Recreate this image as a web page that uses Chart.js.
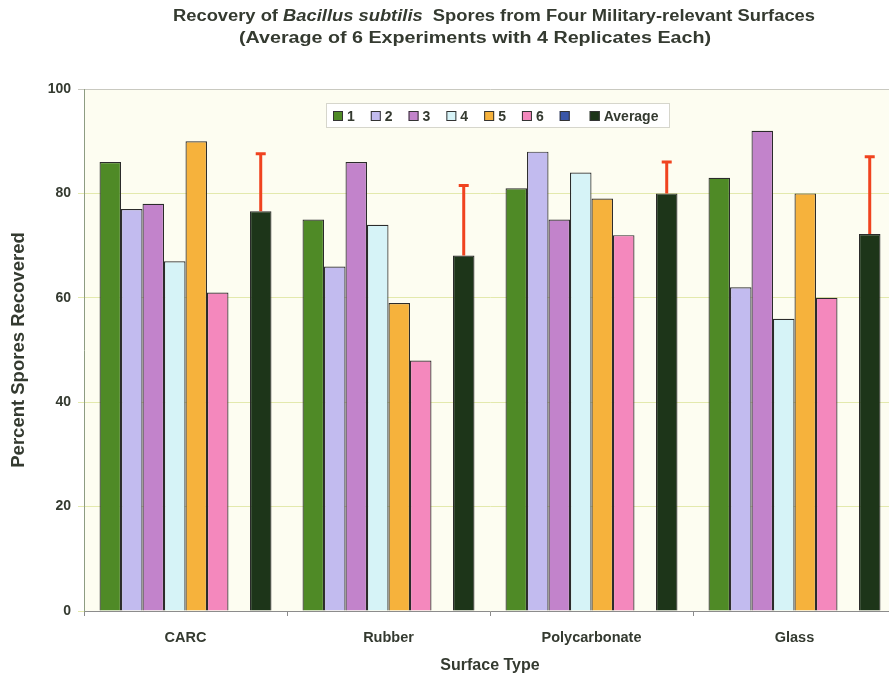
<!DOCTYPE html>
<html>
<head>
<meta charset="utf-8">
<script src="https://cdn.jsdelivr.net/npm/chart.js@4.4.1/dist/chart.umd.min.js"></script>
<style>
  html, body { margin: 0; padding: 0; background: #fff; overflow: hidden; }
  #wrap { position: relative; width: 896px; height: 678px; }
</style>
</head>
<body>
<div id="wrap"><canvas id="chart"></canvas></div>
<script>
// data
const surfaces = ['CARC', 'Rubber', 'Polycarbonate', 'Glass'];
const seriesNames = ['1', '2', '3', '4', '5', '6', '', 'Average'];
const exp1 = [86, 75, 81, 83];
const exp2 = [77, 66, 88, 62];
const exp3 = [78, 86, 75, 92];
const exp4 = [67, 74, 84, 56];
const exp5 = [90, 59, 79, 80];
const exp6 = [61, 48, 72, 60];
const exp7 = [null, null, null, null];   // empty series, only in legend
const average = [76.6, 68.1, 80.0, 72.2];
const averageErr = [11.0, 13.4, 6.0, 14.8];
const yTicks = [0, 20, 40, 60, 80, 100];

const colors = ['#4f8a26', '#c2bbef', '#c283cb', '#d6f3f7', '#f6b23c', '#f488bd', '#3a56a8', '#1d3519'];
const allSeries = [exp1, exp2, exp3, exp4, exp5, exp6, exp7, average];

const FONT = '"Liberation Sans", Arial, sans-serif';
const TEXT = '#343a30';

const plotBg = {
  id: 'plotBg',
  beforeDraw(chart) {
    const {ctx, chartArea: a} = chart;
    ctx.save();
    ctx.fillStyle = '#fdfdf1';
    ctx.fillRect(a.left, a.top, a.right - a.left, a.bottom - a.top);
    ctx.restore();
  }
};

const errorBars = {
  id: 'errorBars',
  afterDatasetsDraw(chart) {
    const {ctx} = chart;
    const y = chart.scales.y;
    const meta = chart.getDatasetMeta(7);
    ctx.save();
    ctx.strokeStyle = '#f0431f';
    ctx.lineWidth = 3;
    meta.data.forEach((bar, i) => {
      const y0 = y.getPixelForValue(average[i]);
      const y1 = y.getPixelForValue(average[i] + averageErr[i]);
      ctx.beginPath();
      ctx.moveTo(bar.x, y0);
      ctx.lineTo(bar.x, y1);
      ctx.moveTo(bar.x - 5, y1);
      ctx.lineTo(bar.x + 5, y1);
      ctx.stroke();
    });
    ctx.restore();
  }
};

// title with the italic species name, stretched a little like the scan
const titlePlugin = {
  id: 'titlePlugin',
  afterDraw(chart) {
    const {ctx} = chart;
    const lines = [
      {cx: 494, cy: 17, width: 642, parts: [['Recovery of ', false], ['Bacillus subtilis', true], ['  Spores from Four Military-relevant Surfaces', false]]},
      {cx: 475, cy: 39, width: 472, parts: [['(Average of 6 Experiments with 4 Replicates Each)', false]]}
    ];
    ctx.save();
    ctx.fillStyle = TEXT;
    ctx.textBaseline = 'middle';
    ctx.textAlign = 'left';
    lines.forEach(line => {
      let w = 0;
      line.parts.forEach(p => {
        ctx.font = (p[1] ? 'italic ' : '') + 'bold 16px ' + FONT;
        w += ctx.measureText(p[0]).width;
      });
      const sx = line.width / w;
      ctx.save();
      ctx.translate(line.cx - line.width / 2, line.cy);
      ctx.scale(sx, 1);
      let x = 0;
      line.parts.forEach(p => {
        ctx.font = (p[1] ? 'italic ' : '') + 'bold 16px ' + FONT;
        ctx.fillText(p[0], x, 0);
        x += ctx.measureText(p[0]).width;
      });
      ctx.restore();
    });
    ctx.restore();
  }
};

// legend drawn inside the plot, like the original
const legendPlugin = {
  id: 'legendPlugin',
  afterDraw(chart) {
    const {ctx} = chart;
    ctx.save();
    ctx.fillStyle = '#ffffff';
    ctx.strokeStyle = '#d6d6cc';
    ctx.lineWidth = 1;
    ctx.fillRect(326, 103, 343, 24);
    ctx.strokeRect(326.5, 103.5, 343, 24);
    ctx.font = 'bold 14px ' + FONT;
    ctx.textBaseline = 'middle';
    let x = 333;
    const cy = 116;
    chart.data.datasets.forEach(ds => {
      ctx.fillStyle = ds.backgroundColor;
      ctx.fillRect(x, cy - 5, 10, 10);
      ctx.strokeStyle = '#333';
      ctx.strokeRect(x + 0.5, cy - 4.5, 9, 9);
      ctx.fillStyle = TEXT;
      ctx.fillText(ds.label, x + 14, cy + 1);
      x += 10 + 4 + ctx.measureText(ds.label).width + 16;
    });
    ctx.restore();
  }
};

new Chart(document.getElementById('chart'), {
  type: 'bar',
  data: {
    labels: surfaces,
    datasets: allSeries.map((vals, i) => ({
      label: seriesNames[i],
      data: vals,
      backgroundColor: colors[i],
      borderColor: '#2b2b2b',
      borderWidth: 1.2,
      categoryPercentage: 0.847,
      barPercentage: 1.0
    }))
  },
  options: {
    responsive: true,
    maintainAspectRatio: false,
    animation: false,
    layout: { padding: { top: 89, left: 0, right: 0, bottom: 0 } },
    plugins: {
      legend: { display: false },
      title: { display: false },
      tooltip: { enabled: false }
    },
    scales: {
      x: {
        afterFit(scale) { scale.height = 67; },
        grid: { display: true, drawOnChartArea: false, offset: true, tickLength: 5, color: '#8c8c8c' },
        border: { color: '#8c8c8c' },
        ticks: { font: { family: FONT, size: 14.5, weight: 'bold' }, color: TEXT, padding: 13 },
        title: { display: true, text: 'Surface Type', font: { family: FONT, size: 16, weight: 'bold' }, color: TEXT, padding: { top: 0, bottom: 3 } }
      },
      y: {
        min: 0,
        max: 100,
        afterFit(scale) { scale.width = 84; },
        afterBuildTicks(scale) { scale.ticks = yTicks.map(v => ({ value: v })); },
        grid: {
          tickLength: 6,
          color: ctx => (ctx.tick && ctx.tick.value === 100) ? '#c9c9c0' : '#e3e9ad'
        },
        border: { color: '#8d9c82' },
        ticks: { font: { family: FONT, size: 14, weight: 'bold' }, color: TEXT, padding: 7 },
        title: { display: true, text: 'Percent Spores Recovered', font: { family: FONT, size: 18.5, weight: 'bold' }, color: TEXT, padding: { top: 8, bottom: 0 } }
      }
    }
  },
  plugins: [plotBg, errorBars, titlePlugin, legendPlugin]
});
</script>
</body>
</html>
